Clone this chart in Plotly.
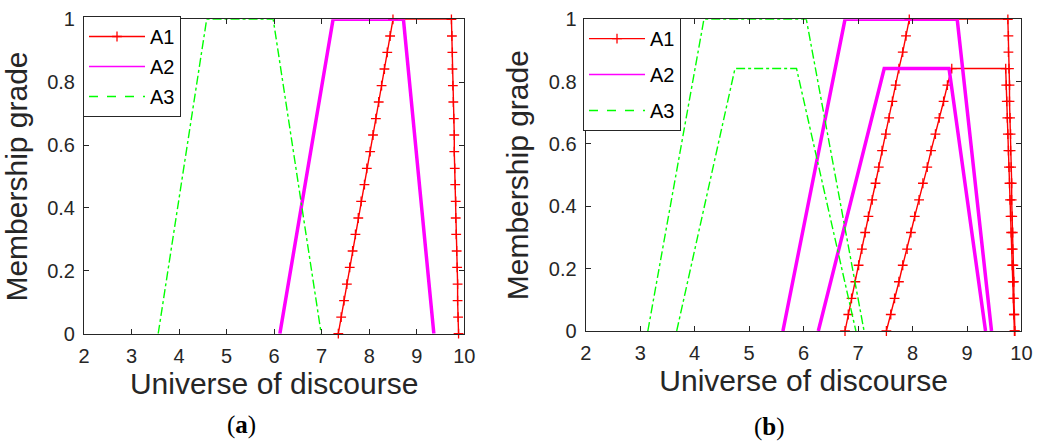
import plotly.graph_objects as go

# ---------------- data ----------------
GRADE_LEVELS = [0, 0.053, 0.105, 0.158, 0.211, 0.263, 0.316, 0.368, 0.421, 0.474,
                0.526, 0.579, 0.632, 0.684, 0.737, 0.789, 0.842, 0.895, 0.947, 1.0]
TICKS_X = [2, 3, 4, 5, 6, 7, 8, 9, 10]
TICKS_Y = [0, 0.2, 0.4, 0.6, 0.8, 1]

# panel (a)
A1a_up_x = [7.35, 7.41, 7.47, 7.53, 7.59, 7.65, 7.71, 7.77, 7.83, 7.90,
            7.95, 8.02, 8.08, 8.14, 8.20, 8.26, 8.32, 8.38, 8.44, 8.50]
A1a_down_x = [9.73, 9.74, 9.75, 9.75, 9.76, 9.77, 9.78, 9.79, 9.79, 9.80,
              9.81, 9.82, 9.82, 9.83, 9.84, 9.85, 9.86, 9.86, 9.87, 9.88]
A2a_x = [6.12, 7.24, 8.72, 9.36]
A2a_y = [0, 1, 1, 0]
A3a_x = [3.56, 4.58, 5.98, 6.99]
A3a_y = [0, 1, 1, 0]

# panel (b) - upper set
A1b_up_x = [6.76, 6.82, 6.88, 6.95, 7.01, 7.07, 7.13, 7.19, 7.26, 7.32,
            7.38, 7.44, 7.51, 7.57, 7.63, 7.69, 7.75, 7.82, 7.88, 7.94]
A1b_down_x = [9.75, 9.76, 9.76, 9.77, 9.78, 9.78, 9.79, 9.80, 9.80, 9.81,
              9.82, 9.82, 9.83, 9.84, 9.84, 9.85, 9.86, 9.86, 9.87, 9.88]
A2b_x = [5.62, 6.76, 8.82, 9.45]
A2b_y = [0, 1, 1, 0]
A3b_x = [3.14, 4.17, 6.05, 7.11]
A3b_y = [0, 1, 1, 0]

# panel (b) - lower set (peak 0.842)
A1b_low_up_x = [7.52, 7.60, 7.67, 7.75, 7.82, 7.90, 7.97, 8.04, 8.12, 8.19,
                8.27, 8.34, 8.42, 8.49, 8.57, 8.64, 8.72]
A1b_low_down_x = [9.71, 9.72, 9.73, 9.74, 9.75, 9.76, 9.77, 9.78, 9.79, 9.80,
                  9.81, 9.82, 9.83, 9.84, 9.85, 9.86, 9.87]
A2b_low_x = [6.27, 7.48, 8.67, 9.34]
A2b_low_y = [0, 0.842, 0.842, 0]
A3b_low_x = [3.67, 4.74, 5.87, 6.96]
A3b_low_y = [0, 0.842, 0.842, 0]

SERIES_NAMES = ["A1", "A2", "A3"]

# ---------------- styling ----------------
RED = "#FF0000"
MAGENTA = "#FF00FF"
GREEN = "#00FF00"
INK = "#262626"
FONT = "Liberation Sans, Arial, sans-serif"

fig = go.Figure()


def a1_trace(up_x, down_x, n, xa, ya):
    ys = GRADE_LEVELS[:n]
    return go.Scatter(
        x=up_x + down_x, y=ys + ys[::-1], mode="lines+markers",
        line=dict(color=RED, width=1.4),
        marker=dict(symbol="cross-thin", size=7, line=dict(color=RED, width=1.3)),
        cliponaxis=False, showlegend=False, xaxis=xa, yaxis=ya, hoverinfo="skip")


def a2_trace(x, y, xa, ya):
    return go.Scatter(x=x, y=y, mode="lines", line=dict(color=MAGENTA, width=3.5),
                      showlegend=False, xaxis=xa, yaxis=ya, hoverinfo="skip")


def a3_trace(x, y, xa, ya):
    return go.Scatter(x=x, y=y, mode="lines",
                      line=dict(color=GREEN, width=1.4, dash="dashdot"),
                      showlegend=False, xaxis=xa, yaxis=ya, hoverinfo="skip")


# panel (a)
fig.add_trace(a1_trace(A1a_up_x, A1a_down_x, 20, "x", "y"))
fig.add_trace(a2_trace(A2a_x, A2a_y, "x", "y"))
fig.add_trace(a3_trace(A3a_x, A3a_y, "x", "y"))

# panel (b)
fig.add_trace(a1_trace(A1b_up_x, A1b_down_x, 20, "x2", "y2"))
fig.add_trace(a1_trace(A1b_low_up_x, A1b_low_down_x, 17, "x2", "y2"))
fig.add_trace(a2_trace(A2b_x, A2b_y, "x2", "y2"))
fig.add_trace(a2_trace(A2b_low_x, A2b_low_y, "x2", "y2"))
fig.add_trace(a3_trace(A3b_x, A3b_y, "x2", "y2"))
fig.add_trace(a3_trace(A3b_low_x, A3b_low_y, "x2", "y2"))

# legend entries (one set per panel)
for lg, xa, ya in [("legend", "x", "y"), ("legend2", "x2", "y2")]:
    fig.add_trace(go.Scatter(x=[None], y=[None], mode="lines+markers", name=SERIES_NAMES[0],
                             line=dict(color=RED, width=1.4),
                             marker=dict(symbol="cross-thin", size=7, line=dict(color=RED, width=1.3)),
                             legend=lg, legendgroup=lg + "1", xaxis=xa, yaxis=ya))
    fig.add_trace(go.Scatter(x=[None], y=[None], mode="lines", name=SERIES_NAMES[1],
                             line=dict(color=MAGENTA, width=1.5),
                             legend=lg, legendgroup=lg + "2", xaxis=xa, yaxis=ya))
    fig.add_trace(go.Scatter(x=[None], y=[None], mode="lines", name=SERIES_NAMES[2],
                             line=dict(color=GREEN, width=1.5, dash="dash"),
                             legend=lg, legendgroup=lg + "3", xaxis=xa, yaxis=ya))

axis_common = dict(
    showline=True, linecolor=INK, linewidth=1.2, mirror="allticks", automargin=False,
    ticks="inside", ticklen=5, tickcolor=INK, tickwidth=1, showgrid=False, zeroline=False,
    tickfont=dict(family=FONT, size=20, color=INK),
)

x_common = dict(axis_common, range=[2, 10], tickvals=TICKS_X, ticklabelstandoff=4,
                title=dict(text="Universe of discourse", font=dict(family=FONT, size=30, color=INK), standoff=1))
y_common = dict(axis_common, range=[0, 1], tickvals=TICKS_Y, ticklabelstandoff=4,
                title=dict(text="Membership grade", font=dict(family=FONT, size=30, color=INK), standoff=11))

legend_common = dict(xanchor="left", yanchor="top", bgcolor="white", bordercolor=INK, borderwidth=1,
                     font=dict(family="Liberation Sans, Arial", size=20, color="black"),
                     itemwidth=56, tracegroupgap=1)

fig.update_layout(
    width=1048, height=441,
    margin=dict(l=0, r=0, t=0, b=0),
    paper_bgcolor="white", plot_bgcolor="white",
    font=dict(family=FONT, color=INK),
    xaxis=dict(x_common, domain=[0.0802, 0.4430], anchor="y"),
    yaxis=dict(y_common, domain=[0.2433, 0.9562], anchor="x"),
    xaxis2=dict(x_common, domain=[0.5589, 0.9747], anchor="y2"),
    yaxis2=dict(y_common, domain=[0.2494, 0.9562], anchor="x2"),
    legend=dict(legend_common, x=0.0792, y=0.9637),
    legend2=dict(legend_common, x=0.5563, y=0.9590, tracegroupgap=7),
    annotations=[
        dict(text="(<b>a</b>)", x=0.2309, y=0.036, xref="paper", yref="paper",
             showarrow=False, xanchor="center", yanchor="middle",
             font=dict(family="Liberation Serif, serif", size=25, color="black")),
        dict(text="(<b>b</b>)", x=0.7338, y=0.032, xref="paper", yref="paper",
             showarrow=False, xanchor="center", yanchor="middle",
             font=dict(family="Liberation Serif, serif", size=25, color="black")),
    ],
    showlegend=True,
)

fig.write_html("out.html", config={"displayModeBar": False},
               post_script="document.body.style.margin='0';")
